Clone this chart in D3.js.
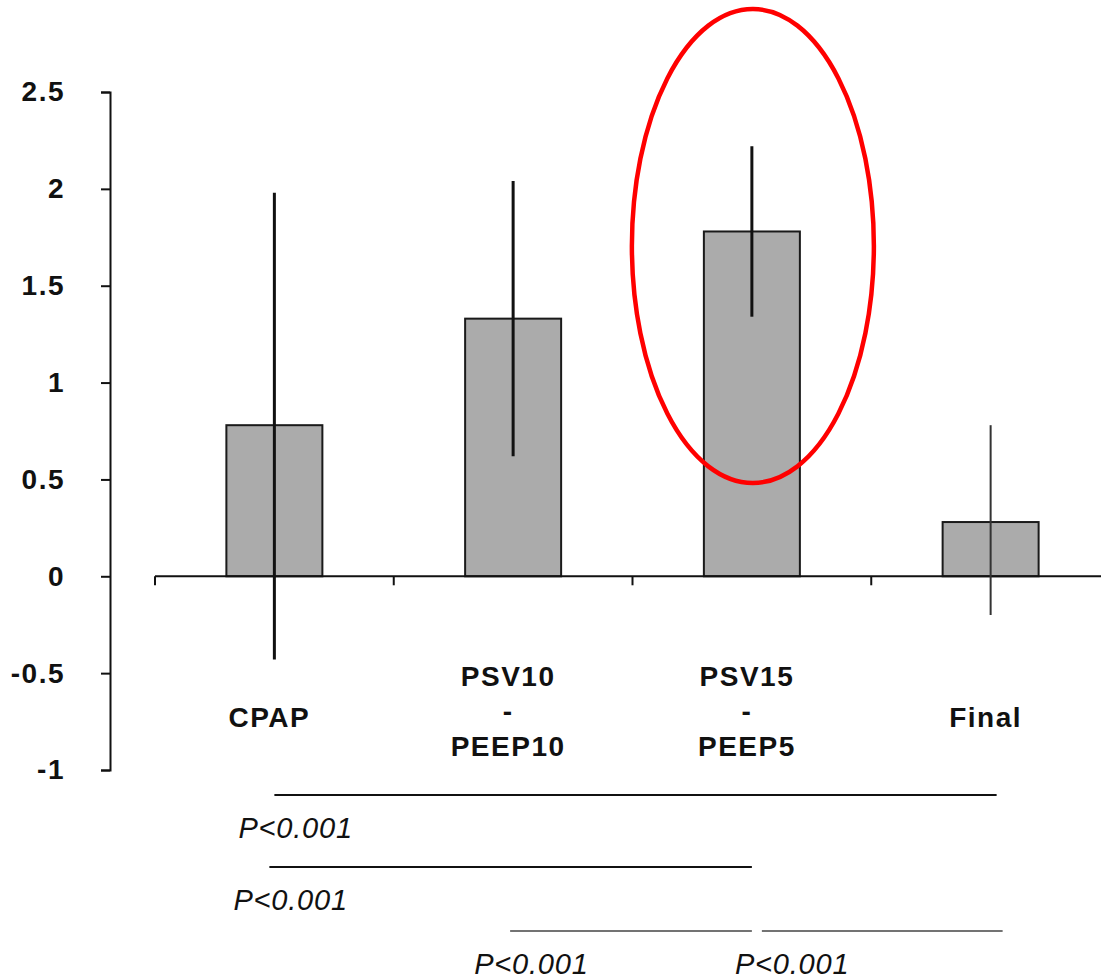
<!DOCTYPE html>
<html>
<head>
<meta charset="utf-8">
<script src="https://cdn.jsdelivr.net/npm/d3@7"></script>
<style>
  body { margin: 0; background: #fff; }
  text { font-family: "Liberation Sans", Arial, sans-serif; }
</style>
</head>
<body>
<script>
// Chart data
const categories = ["CPAP", "PSV10 - PEEP10", "PSV15 - PEEP5", "Final"];
const labelLines = [["CPAP"], ["PSV10", "-", "PEEP10"], ["PSV15", "-", "PEEP5"], ["Final"]];
const means = [0.78, 1.33, 1.78, 0.28];
const errLow = [-0.43, 0.62, 1.34, -0.20];
const errHigh = [1.98, 2.04, 2.22, 0.78];
const yTicks = [-1, -0.5, 0, 0.5, 1, 1.5, 2, 2.5];
// significance comparisons (from, to, label)
const compFrom = ["CPAP", "CPAP", "PSV10 - PEEP10", "PSV15 - PEEP5"];
const compTo = ["Final", "PSV15 - PEEP5", "PSV15 - PEEP5", "Final"];
const compLabel = ["P<0.001", "P<0.001", "P<0.001", "P<0.001"];

const width = 1101, height = 979;
const svg = d3.select("body").append("svg")
  .attr("width", width)
  .attr("height", height);

// Scales
const y = d3.scaleLinear().domain([-1, 2.5]).range([770, 92]);
const x = d3.scalePoint().domain(categories).range([155, 1110]).padding(0.5);
const step = x.step();
const barW = 96;

// Bars
svg.selectAll("rect.bar")
  .data(categories)
  .join("rect")
  .attr("class", "bar")
  .attr("x", d => x(d) - barW / 2)
  .attr("y", (d, i) => y(means[i]))
  .attr("width", barW)
  .attr("height", (d, i) => y(0) - y(means[i]))
  .attr("fill", "#ababab")
  .attr("stroke", "#1a1a1a")
  .attr("stroke-width", 2);

// X axis line with ticks at category boundaries
svg.append("line")
  .attr("x1", x(categories[0]) - step / 2).attr("x2", width)
  .attr("y1", y(0)).attr("y2", y(0))
  .attr("stroke", "#111").attr("stroke-width", 2);

svg.selectAll("line.xtick")
  .data(categories)
  .join("line")
  .attr("class", "xtick")
  .attr("x1", d => x(d) - step / 2).attr("x2", d => x(d) - step / 2)
  .attr("y1", y(0)).attr("y2", y(0) + 9)
  .attr("stroke", "#111").attr("stroke-width", 2);

// Error bars
svg.selectAll("line.err")
  .data(categories)
  .join("line")
  .attr("class", "err")
  .attr("x1", d => x(d)).attr("x2", d => x(d))
  .attr("y1", (d, i) => y(errHigh[i]))
  .attr("y2", (d, i) => y(errLow[i]))
  .attr("stroke", (d, i) => i === 3 ? "#333" : "#111")
  .attr("stroke-width", (d, i) => i === 3 ? 2 : 3);

// Y axis
const yAxis = svg.append("g")
  .attr("transform", "translate(110,0)")
  .call(d3.axisLeft(y).tickValues(yTicks).tickSize(9).tickPadding(36)
    .tickFormat(d => String(d)));
yAxis.select(".domain").attr("stroke", "#111").attr("stroke-width", 2);
yAxis.selectAll(".tick line").attr("stroke", "#111").attr("stroke-width", 2);
yAxis.selectAll(".tick text")
  .attr("font-size", 28)
  .attr("font-weight", "bold")
  .attr("letter-spacing", 1.5)
  .attr("font-family", "Liberation Sans, Arial, sans-serif")
  .attr("fill", "#111");

// Category labels
categories.forEach((c, i) => {
  const lines = labelLines[i];
  const base = lines.length === 1 ? 727 : 686;
  const t = svg.append("text")
    .attr("text-anchor", "middle")
    .attr("font-size", 28)
    .attr("font-weight", "bold")
    .attr("letter-spacing", 1.5)
    .attr("fill", "#111");
  lines.forEach((s, j) => {
    t.append("tspan")
      .attr("x", x(c) - 5)
      .attr("y", base + j * 35)
      .text(s);
  });
});

// Significance lines
const rowY = [795, 867, 931, 931];
compFrom.forEach((f, i) => {
  let x1 = x(f), x2 = x(compTo[i]);
  if (i === 0) x2 += 6;
  if (i === 1) x1 -= 5;
  if (i === 2) x1 -= 3;
  if (i === 3) { x1 += 10; x2 += 12; }
  svg.append("line")
    .attr("x1", x1).attr("x2", x2)
    .attr("y1", rowY[i]).attr("y2", rowY[i])
    .attr("stroke", i < 2 ? "#111" : "#444")
    .attr("stroke-width", i < 2 ? 2 : 1.6);
  svg.append("text")
    .attr("x", x1 - (i === 3 ? 27 : 36))
    .attr("y", rowY[i] + 43)
    .attr("font-size", 29)
    .attr("font-style", "italic")
    .attr("letter-spacing", 0.8)
    .attr("fill", "#111")
    .text(compLabel[i]);
});

// Highlight ellipse around PSV15 - PEEP5
svg.append("ellipse")
  .attr("cx", x("PSV15 - PEEP5") + 1)
  .attr("cy", 246)
  .attr("rx", 121)
  .attr("ry", 237)
  .attr("fill", "none")
  .attr("stroke", "#ff0000")
  .attr("stroke-width", 4.5);
</script>
</body>
</html>
